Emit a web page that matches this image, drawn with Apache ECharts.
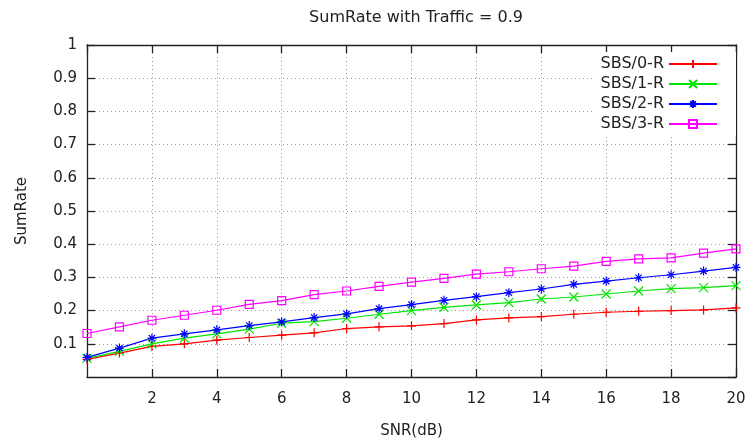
<!DOCTYPE html>
<html>
<head>
<meta charset="utf-8">
<script src="https://cdn.jsdelivr.net/npm/echarts@6/dist/echarts.min.js"></script>
<style>html,body{margin:0;padding:0;background:#fff;}#c{width:750px;height:439px;}</style>
</head>
<body>
<div id="c"></div>
<script>
var snr = [0,1,2,3,4,5,6,7,8,9,10,11,12,13,14,15,16,17,18,19,20];
var sbs0 = [0.053,0.072,0.092,0.100,0.111,0.119,0.126,0.133,0.146,0.151,0.154,0.161,0.172,0.178,0.182,0.189,0.195,0.198,0.200,0.202,0.208];
var sbs1 = [0.056,0.077,0.100,0.117,0.130,0.144,0.162,0.167,0.177,0.189,0.200,0.210,0.217,0.224,0.235,0.241,0.250,0.259,0.266,0.269,0.275];
var sbs2 = [0.059,0.087,0.117,0.130,0.142,0.155,0.166,0.179,0.190,0.206,0.218,0.231,0.242,0.254,0.265,0.279,0.289,0.299,0.308,0.319,0.330];
var sbs3 = [0.131,0.151,0.171,0.186,0.201,0.219,0.230,0.248,0.259,0.273,0.286,0.297,0.310,0.317,0.326,0.334,0.348,0.356,0.359,0.373,0.386];
var seriesNames = ['SBS/0-R','SBS/1-R','SBS/2-R','SBS/3-R'];
var titleText = 'SumRate with Traffic = 0.9';
var xName = 'SNR(dB)';
var yName = 'SumRate';

var FONT = 'DejaVu Sans';
var colors = ['#ff0000','#00e600','#0000ff','#ff00ff'];
var symbols = [
  'path://M0,5L10,5M5,0L5,10',
  'path://M0,0L10,10M10,0L0,10',
  'path://M0,5L10,5M5,0L5,10M1.5,1.5L8.5,8.5M8.5,1.5L1.5,8.5',
  'rect'
];
function pairs(v){ return snr.map(function(x,i){ return [x, v[i]]; }); }
var allData = [sbs0,sbs1,sbs2,sbs3];

var axisLineStyle = {show: true, onZero: false, lineStyle: {color:'#222', width:1.3}};
var tickStyle = {show: true, inside: true, length: 8, lineStyle: {color:'#222', width:1.3}};
var series = allData.map(function(d,i){
  return {
    name: seriesNames[i],
    type: 'line',
    data: pairs(d),
    symbol: symbols[i],
    symbolSize: i===3 ? 8 : 9,
    showAllSymbol: true,
    clip: false,
    lineStyle: {color: colors[i], width: 1.2},
    itemStyle: {color: 'rgba(0,0,0,0)', borderColor: colors[i], borderWidth: 1.2},
    emphasis: {disabled: true},
    z: 3
  };
});

var chart = echarts.init(document.getElementById('c'), null, {renderer:'canvas'});
chart.setOption({
  animation: false,
  backgroundColor: '#fff',
  title: {
    text: titleText, left: 411, top: 5, textAlign: 'center',
    textStyle: {fontFamily: FONT, fontSize: 16, fontWeight: 'normal', color: '#222'}
  },
  grid: {left: 87, right: 14, top: 45, bottom: 62, containLabel: false, outerBoundsMode: 'none'},
  legend: {
    orient: 'vertical', right: 14, top: 52, align: 'right',
    itemWidth: 48, itemHeight: 10, itemGap: 4,
    padding: [4, 18, 4, 8],
    backgroundColor: '#fff',
    textStyle: {fontFamily: FONT, fontSize: 16, color: '#222'},
    data: seriesNames,
    z: 2
  },
  xAxis: [{
    type: 'value', min: 0, max: 20, interval: 2, position: 'bottom',
    name: xName, nameLocation: 'middle', nameGap: 47,
    nameTextStyle: {fontFamily: FONT, fontSize: 15, color: '#222'},
    axisLine: axisLineStyle,
    axisTick: tickStyle,
    axisLabel: {showMinLabel: false, margin: 15, fontFamily: FONT, fontSize: 15, color: '#222'},
    splitLine: {show: true, lineStyle: {color: '#999', type: [1,3], width: 1}}
  },{
    type: 'value', min: 0, max: 20, interval: 2, position: 'top',
    axisLine: axisLineStyle,
    axisTick: tickStyle,
    axisLabel: {show: false}, splitLine: {show: false}
  }],
  yAxis: [{
    type: 'value', min: 0, max: 1, interval: 0.1, position: 'left',
    name: yName, nameLocation: 'middle', nameGap: 57, nameRotate: 90,
    nameTextStyle: {fontFamily: FONT, fontSize: 15, color: '#222'},
    axisLine: axisLineStyle,
    axisTick: tickStyle,
    axisLabel: {showMinLabel: false, margin: 10, fontFamily: FONT, fontSize: 15, color: '#222',
      formatter: function(v){ return String(Math.round(v*10)/10); }},
    splitLine: {show: true, lineStyle: {color: '#999', type: [1,3], width: 1}}
  },{
    type: 'value', min: 0, max: 1, interval: 0.1, position: 'right',
    axisLine: axisLineStyle,
    axisTick: tickStyle,
    axisLabel: {show: false}, splitLine: {show: false}
  }],
  series: series
});
</script>
</body>
</html>
